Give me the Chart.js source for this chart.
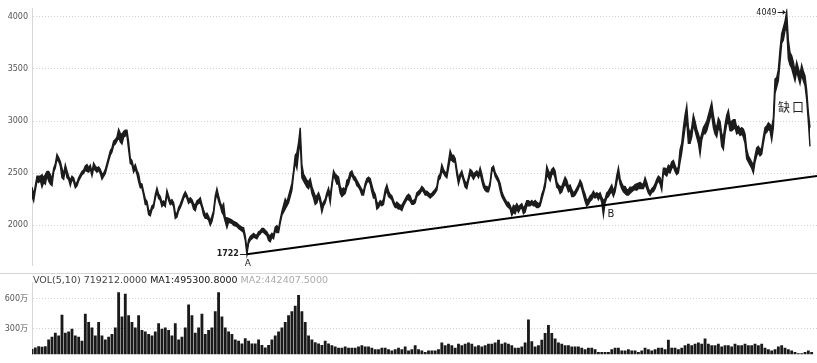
<!DOCTYPE html>
<html><head><meta charset="utf-8">
<script src="https://cdn.jsdelivr.net/npm/chart.js@4"></script>
<style>
html,body{margin:0;padding:0;background:#fff;overflow:hidden}
#p1{position:absolute;left:0;top:0;width:817px;height:274px}
#p2{position:absolute;left:0;top:274px;width:817px;height:89px}
</style></head><body>
<div id="p1"><canvas id="c1" width="817" height="274"></canvas></div>
<div id="p2"><canvas id="c2" width="817" height="89"></canvas></div>
<script>
// ---- data ----
const priceTicks = [2000, 2500, 3000, 3500, 4000];
const volTicks = [300, 600];           // 万
const priceHigh = [
2366,2291,2381,2471,2471,2471,2486,2456,2486,2516,
2516,2486,2441,2546,2591,2681,2651,2612,2546,2492,
2582,2522,2471,2432,2471,2456,2396,2411,2456,2486,
2516,2531,2570,2582,2552,2576,2510,2597,2567,2552,
2561,2537,2492,2501,2534,2594,2654,2714,2744,2807,
2822,2846,2921,2882,2870,2900,2912,2912,2801,2642,
2621,2552,2582,2528,2492,2402,2396,2321,2252,2231,
2147,2132,2186,2201,2294,2357,2300,2276,2222,2234,
2216,2336,2282,2231,2246,2216,2120,2111,2171,2201,
2246,2291,2321,2291,2246,2264,2246,2207,2192,2234,
2246,2264,2201,2147,2102,2117,2087,2042,2087,2141,
2282,2351,2282,2222,2177,2207,2072,2072,2066,
2060,2051,2036,2030,2021,2006,1991,1982,1976,1901,
1766,1862,1892,1907,1922,1907,1907,1937,1946,1970,
1970,1952,1937,1907,1901,1922,1907,1982,1997,1967,
2057,2132,2192,2252,2222,2282,2342,2402,2522,2672,
2696,2792,2936,2582,2492,2462,2432,2417,2447,2372,
2327,2282,2282,2312,2267,2192,2222,2252,2312,2357,
2282,2402,2522,2492,2477,2462,2372,2342,2357,2342,
2432,2447,2507,2522,2477,2462,2432,2402,2372,2342,
2327,2402,2447,2462,2447,2387,2327,2297,2222,2207,
2237,2222,2252,2342,2387,2327,2297,2282,2237,2198,
2222,2207,2192,2192,2222,2252,2282,2297,2282,2237,
2237,2252,2312,2327,2342,2372,2357,2327,2327,2312,
2297,2306,2327,2342,2372,2471,2492,2582,2537,2507,
2507,2612,2717,2672,2672,2642,2537,2447,2492,2522,
2462,2417,2402,2462,2537,2522,2492,2507,2522,2492,
2552,2492,2417,2372,2372,2357,2417,2552,2567,2507,
2477,2447,2402,2327,2282,2252,2222,2222,2192,2147,
2192,2177,2207,2177,2192,2207,2162,2192,2237,2237,
2222,2237,2222,2237,2222,2207,2222,2297,2342,2417,
2567,2522,2492,2537,2552,2522,2417,2387,2372,2372,
2417,2462,2432,2372,2387,2342,2312,2327,2357,2387,
2432,2402,2342,2297,2237,2252,2282,2297,2327,2297,
2312,2297,2312,2267,2237,2252,2312,2327,2357,2387,
2327,2372,2477,2552,2447,2402,2372,2372,2342,2342,
2367,2361,2373,2391,2397,2403,2412,2397,2397,2457,
2412,2352,2322,2352,2367,2397,2442,2472,2457,2397,
2547,2547,2532,2577,2562,2607,2622,2577,2532,2562,
2727,2787,2937,3057,3147,2937,2877,2937,3057,2997,
2922,2877,2817,2877,2937,2967,2997,3057,3117,3177,
3057,2967,2937,3027,2997,2877,2847,2967,3057,3102,
2997,2997,3012,3012,2937,2952,2922,2937,2922,2877,
2727,2667,2637,2607,2577,2667,2742,2757,2727,2742,
2847,2937,2952,2982,2967,2937,3027,3402,3417,3492,
3687,3837,3897,3957,4049,3777,3657,3627,3567,3477,
3567,3507,3447,3537,3477,3432,3297,3087,2937
];
const priceLow = [
2276,2231,2336,2426,2411,2432,2366,2411,2396,2480,
2426,2396,2381,2510,2552,2636,2612,2570,2456,2441,
2540,2456,2438,2381,2438,2420,2360,2378,2426,2456,
2486,2498,2528,2516,2510,2540,2474,2546,2528,2510,
2528,2498,2441,2468,2498,2558,2618,2672,2702,2765,
2780,2810,2846,2801,2780,2846,2858,2858,2726,2591,
2582,2510,2540,2492,2420,2360,2360,2288,2198,2198,
2102,2090,2150,2168,2258,2318,2258,2240,2180,2198,
2180,2300,2240,2198,2210,2180,2066,2078,2138,2168,
2210,2258,2288,2258,2210,2228,2210,2156,2141,2198,
2210,2216,2168,2096,2066,2066,2051,2000,2036,2108,
2240,2300,2231,2186,2126,2096,2036,1976,2030,
2024,2018,2000,1994,1988,1970,1958,1946,1931,1856,
1722,1826,1856,1871,1886,1880,1871,1901,1916,1940,
1931,1916,1901,1856,1841,1886,1871,1946,1931,1931,
2021,2096,2126,2156,2186,2216,2276,2336,2486,2606,
2546,2696,2816,2456,2426,2396,2366,2351,2396,2306,
2261,2201,2216,2276,2216,2126,2186,2216,2276,2306,
2216,2366,2486,2441,2396,2396,2306,2276,2291,2306,
2366,2396,2456,2486,2441,2426,2381,2366,2336,2291,
2291,2366,2411,2426,2396,2321,2261,2261,2156,2171,
2201,2186,2201,2291,2336,2276,2261,2246,2201,2171,
2171,2156,2156,2141,2186,2216,2246,2246,2231,2201,
2201,2216,2276,2291,2306,2336,2321,2291,2291,2276,
2261,2276,2291,2312,2336,2432,2450,2516,2501,2471,
2456,2546,2636,2621,2606,2606,2486,2396,2456,2486,
2426,2366,2351,2426,2486,2471,2441,2471,2486,2456,
2501,2426,2366,2336,2321,2321,2381,2516,2531,2471,
2441,2411,2336,2276,2246,2216,2186,2171,2156,2096,
2126,2111,2156,2126,2156,2171,2111,2126,2186,2186,
2186,2201,2186,2186,2171,2171,2186,2246,2306,2366,
2486,2456,2426,2486,2501,2456,2366,2351,2306,2321,
2366,2396,2366,2321,2336,2276,2276,2291,2321,2351,
2396,2351,2291,2231,2186,2201,2231,2246,2276,2261,
2276,2246,2276,2216,2096,2216,2261,2276,2306,2321,
2276,2321,2411,2486,2396,2351,2321,2306,2291,2291,
2307,2322,2337,2343,2337,2352,2352,2352,2352,2397,
2352,2307,2286,2316,2322,2352,2397,2427,2397,2337,
2502,2487,2472,2517,2502,2547,2562,2517,2487,2502,
2607,2697,2817,2937,2997,2787,2787,2847,2967,2907,
2847,2787,2682,2817,2877,2877,2907,2967,3027,3057,
2937,2877,2847,2937,2907,2757,2727,2877,2967,2997,
2907,2907,2922,2937,2877,2892,2862,2877,2847,2787,
2637,2607,2577,2547,2502,2607,2667,2697,2667,2682,
2787,2877,2892,2922,2907,2817,2937,3267,3327,3387,
3567,3747,3777,3867,3897,3597,3537,3507,3447,3387,
3477,3417,3357,3447,3387,3342,3207,2997,2757
];
// volume, 万 (one bar per two price samples)
const volume = [
93,107,120,115,120,188,216,257,229,440,
257,270,298,229,216,175,448,366,311,229,
366,229,188,216,243,311,666,420,652,434,
366,311,434,284,270,243,229,270,352,298,
311,284,229,352,188,216,311,543,434,257,
311,448,243,284,311,475,666,420,311,270,
243,188,175,148,202,175,148,148,188,134,
107,134,188,229,270,311,366,434,475,529,
638,475,366,229,188,161,148,134,175,148,
131,117,104,104,117,104,104,104,117,131,
117,117,104,90,90,104,104,90,77,90,
104,90,117,77,90,131,90,77,63,77,
77,77,90,158,131,145,131,104,145,131,
145,158,145,117,131,117,131,145,145,158,
186,145,158,145,131,104,104,117,158,390,
172,117,131,186,254,336,254,199,158,145,
131,131,117,117,117,104,90,104,104,90,
63,63,63,63,90,104,104,77,77,90,
77,77,63,77,104,90,77,90,104,104,
90,186,104,104,90,104,131,145,131,145,
158,145,200,145,131,131,145,117,131,131,
117,145,131,131,145,131,131,145,131,145,
104,90,77,90,117,131,104,90,77,63,
49,49,63,77,63
];
const trendX = [129, 471.2];
const trendY = [1722, 2473];
const lowPoint = {i: 129, v: 1722, label: '1722', tag: 'A'};
const bPoint = {i: 343, v: 2096, tag: 'B'};
const highPoint = {i: 453, v: 4049, label: '4049'};
const gapLabel = {i: 455, v: 3135, text: '缺口'};
const volText = ['VOL(5,10) 719212.0000 ', 'MA1:495300.8000 ', 'MA2:442407.5000'];

// ---- charts ----
const X_MIN = 0, X_MAX = 471.2;
const FONT = '"DejaVu Sans", "Noto Sans CJK SC", sans-serif';
const pts = arr => arr.map((v, i) => ({x: i, y: v}));

const annPlugin = {
  id: 'ann',
  afterDatasetsDraw(chart) {
    const {ctx, scales: {x, y}} = chart;
    ctx.save();
    ctx.fillStyle = '#222'; ctx.strokeStyle = '#222'; ctx.lineWidth = 1;
    // low point A
    let px = x.getPixelForValue(lowPoint.i), py = y.getPixelForValue(lowPoint.v);
    ctx.font = 'bold 8px ' + FONT; ctx.textAlign = 'right'; ctx.textBaseline = 'middle';
    ctx.fillText(lowPoint.label, px - 8, py);
    ctx.beginPath(); ctx.moveTo(px - 7, Math.round(py) + 0.5); ctx.lineTo(px, Math.round(py) + 0.5); ctx.stroke();
    ctx.font = '9px ' + FONT; ctx.textAlign = 'center';
    ctx.fillText(lowPoint.tag, px + 1, py + 9);
    // B
    px = x.getPixelForValue(bPoint.i); py = y.getPixelForValue(bPoint.v);
    ctx.font = '10px ' + FONT; ctx.textAlign = 'left';
    ctx.fillText(bPoint.tag, px + 4, py - 1);
    // 4049 peak
    px = x.getPixelForValue(highPoint.i); py = y.getPixelForValue(highPoint.v);
    ctx.font = '8px ' + FONT; ctx.textAlign = 'right';
    ctx.fillText(highPoint.label, px - 10, py + 1);
    ctx.beginPath(); ctx.moveTo(px - 9, Math.round(py) + 0.5); ctx.lineTo(px - 1, Math.round(py) + 0.5); ctx.stroke();
    ctx.beginPath(); ctx.moveTo(px - 1, py + 0.5); ctx.lineTo(px - 4, py - 2); ctx.lineTo(px - 4, py + 3); ctx.closePath(); ctx.fill();
    // gap label
    px = x.getPixelForValue(gapLabel.i); py = y.getPixelForValue(gapLabel.v);
    ctx.font = '12px "Noto Sans CJK SC", sans-serif'; ctx.textAlign = 'center';
    try { ctx.letterSpacing = '2px'; } catch (e) {}
    ctx.fillText(gapLabel.text, px + 2, py);
    try { ctx.letterSpacing = '0px'; } catch (e) {}
    // separator line at bottom of price panel
    ctx.strokeStyle = '#d6d6d6';
    ctx.beginPath(); ctx.moveTo(0, chart.height - 0.5); ctx.lineTo(chart.width, chart.height - 0.5); ctx.stroke();
    ctx.restore();
  }
};

new Chart(document.getElementById('c1'), {
  type: 'line',
  data: {datasets: [
    {data: trendX.map((v, i) => ({x: v, y: trendY[i]})), borderColor: '#000', borderWidth: 2, pointRadius: 0, fill: false},
    {data: pts(priceHigh), borderColor: '#1c1c1c', backgroundColor: '#1c1c1c', borderWidth: 1.4, pointRadius: 0, fill: '+1'},
    {data: pts(priceLow), borderColor: '#1c1c1c', borderWidth: 1.4, pointRadius: 0, fill: false}
  ]},
  options: {
    responsive: false, animation: false, events: [],
    layout: {padding: {left: 0, right: 0, top: 0, bottom: 1}},
    plugins: {legend: {display: false}, tooltip: {enabled: false}},
    scales: {
      x: {type: 'linear', min: X_MIN, max: X_MAX, display: false},
      y: {
        min: 1617, max: 4077,
        afterFit: s => { s.width = 32; },
        afterBuildTicks: s => { s.ticks = priceTicks.map(v => ({value: v})); },
        ticks: {padding: 4, color: '#555', font: {family: FONT, size: 8}, callback: v => String(v)},
        grid: {color: '#d0d0d0', drawTicks: false},
        border: {display: true, color: '#d8d8d8', dash: [1, 2]}
      }
    }
  },
  plugins: [annPlugin]
});

const volPlugin = {
  id: 'voltext',
  afterDraw(chart) {
    const ctx = chart.ctx;
    ctx.save();
    ctx.font = '9.5px ' + FONT; ctx.textBaseline = 'middle'; ctx.textAlign = 'left';
    const colors = ['#444', '#111', '#aaa'];
    let x = 33;
    volText.forEach((t, i) => { ctx.fillStyle = colors[i]; ctx.fillText(t, x, 6.5); x += ctx.measureText(t).width; });
    ctx.restore();
  }
};

new Chart(document.getElementById('c2'), {
  type: 'bar',
  data: {datasets: [{
    data: volume.map((v, i) => ({x: 2 * i, y: v})),
    backgroundColor: '#1a1a1a', borderWidth: 0,
    barPercentage: 0.85, categoryPercentage: 1, grouped: false
  }]},
  options: {
    responsive: false, animation: false, events: [],
    layout: {padding: 0},
    plugins: {legend: {display: false}, tooltip: {enabled: false}},
    scales: {
      x: {type: 'linear', min: X_MIN, max: X_MAX, display: false, offset: false},
      y: {
        min: 40, max: 762,
        afterFit: s => { s.width = 32; },
        afterBuildTicks: s => { s.ticks = volTicks.map(v => ({value: v})); },
        ticks: {padding: 4, color: '#555', font: {family: FONT, size: 8}, callback: v => v + '万'},
        grid: {color: '#d0d0d0', drawTicks: false},
        border: {display: true, color: '#d8d8d8', dash: [1, 2]}
      }
    }
  },
  plugins: [volPlugin]
});
</script>
</body></html>
